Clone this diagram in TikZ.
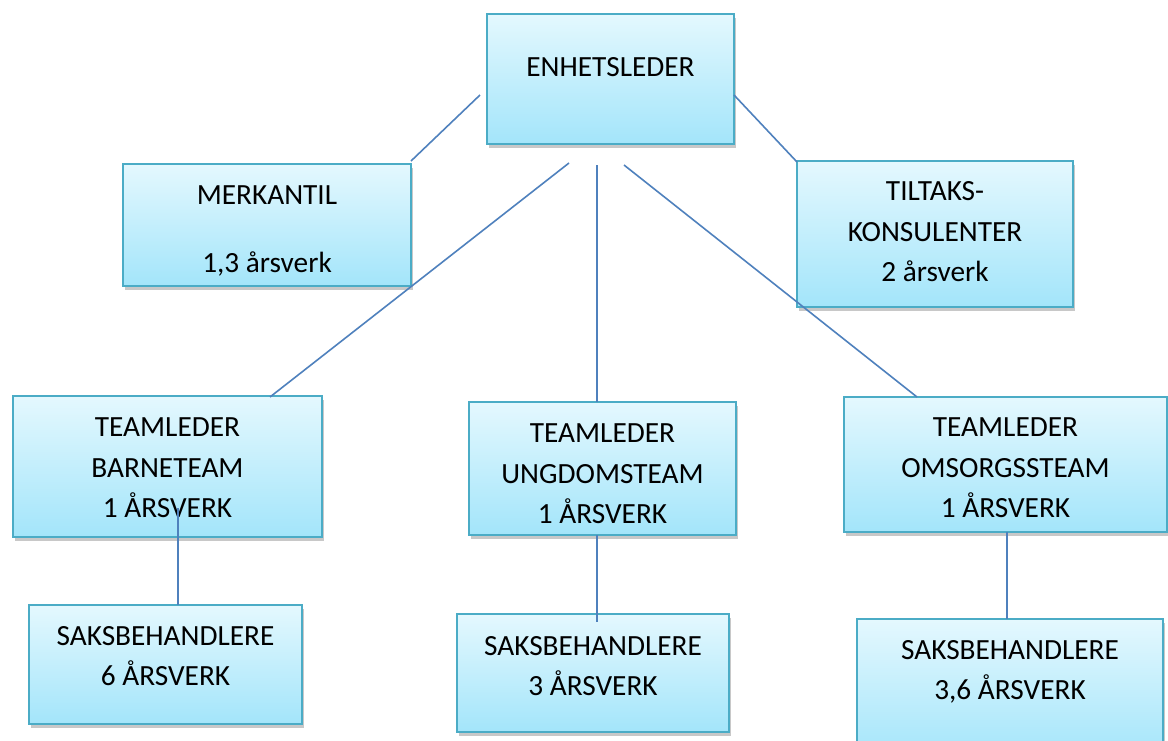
\documentclass[tikz,border=0pt]{standalone}
\usepackage{fontspec}
\setmainfont{Carlito}
\usetikzlibrary{shadows,fit}
\definecolor{boxtop}{RGB}{228,248,254}
\definecolor{boxbot}{RGB}{163,229,250}
\definecolor{boxedge}{RGB}{75,172,198}
\definecolor{connc}{RGB}{79,129,189}
\tikzset{
  box/.style={draw=boxedge, line width=2pt, top color=boxtop, bottom color=boxbot,
    rectangle, inner sep=0pt,
    drop shadow={shadow xshift=2pt, shadow yshift=-4pt, opacity=0.3, fill=black!70}},
  txt/.style={align=center, inner sep=0pt, anchor=base, font=\fontsize{29.3}{40.5}\selectfont},
  connector/.style={draw=connc, line width=1.6pt}
}
\begin{document}
\begin{tikzpicture}[x=1pt,y=-1pt]
\useasboundingbox[fill=white] (0,0) rectangle (1168,740);
% boxes
\node[box, fit={(487,14) (734,144)}] (enh) {};
\node[box, fit={(123,164) (411,286)}] (merk) {};
\node[box, fit={(797,161) (1073,307)}] (tilt) {};
\node[box, fit={(13,396) (322,537)}] (barne) {};
\node[box, fit={(469,402) (736,535)}] (ungdom) {};
\node[box, fit={(844,397) (1167,532)}] (omsorg) {};
\node[box, fit={(29,605) (302,724)}] (saks1) {};
\node[box, fit={(457,614) (729,732)}] (saks2) {};
\node[box, fit={(857,619) (1163,760)}] (saks3) {};
% texts (anchor = baseline of last line)
\node[txt] (tenh) at (610.5,76.5) {ENHETSLEDER};
\node[txt] (tmerk) at (267,272.5) {MERKANTIL\\[27.5pt]1,3 årsverk};
\node[txt] (ttilt) at (935,281.5) {TILTAKS-\\KONSULENTER\\2 årsverk};
\node[txt] (tbarne) at (167.5,517.5) {TEAMLEDER\\BARNETEAM\\1 ÅRSVERK};
\node[txt] (tungdom) at (602.5,523.5) {TEAMLEDER\\UNGDOMSTEAM\\1 ÅRSVERK};
\node[txt] (tomsorg) at (1005.5,517.5) {TEAMLEDER\\OMSORGSSTEAM\\1 ÅRSVERK};
\node[txt] (tsaks1) at (165.5,685.5) {SAKSBEHANDLERE\\6 ÅRSVERK};
\node[txt] (tsaks2) at (593,695.5) {SAKSBEHANDLERE\\3 ÅRSVERK};
\node[txt] (tsaks3) at (1010,699.5) {SAKSBEHANDLERE\\3,6 ÅRSVERK};
% connector ends
\coordinate (e1) at (480,95);   \coordinate (m1) at (411,161);
\coordinate (e2) at (734,95);   \coordinate (t1) at (797,162);
\coordinate (e3) at (569,163);  \coordinate (b1) at (270,397);
\coordinate (e4) at (597,165);  \coordinate (u1) at (597,402);
\coordinate (e5) at (624,165);  \coordinate (o1) at (917,397);
\coordinate (b2) at (178,508);  \coordinate (s1) at (178,605);
\coordinate (u2) at (597,535);  \coordinate (s2) at (597,622);
\coordinate (o2) at (1007,532); \coordinate (s3) at (1007,619);
\draw[connector] (e1) -- (m1);
\draw[connector] (e2) -- (t1);
\draw[connector] (e3) -- (b1);
\draw[connector] (e4) -- (u1);
\draw[connector] (e5) -- (o1);
\draw[connector] (b2) -- (s1);
\draw[connector] (u2) -- (s2);
\draw[connector] (o2) -- (s3);
\end{tikzpicture}
\end{document}
